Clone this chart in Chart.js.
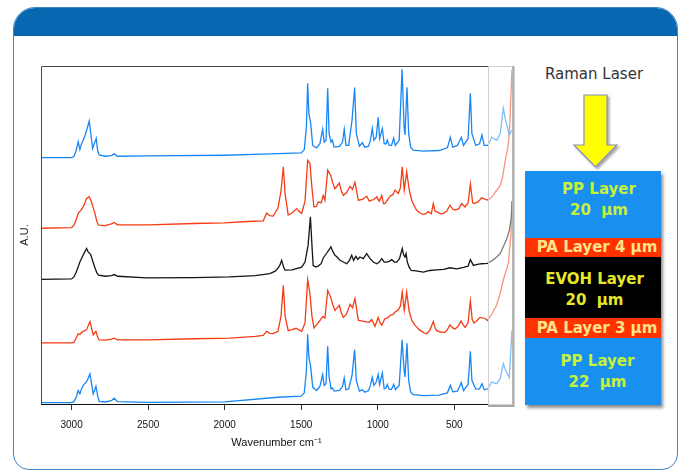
<!DOCTYPE html>
<html>
<head>
<meta charset="utf-8">
<title>Raman spectra of a multilayer film</title>
<script src="https://cdn.jsdelivr.net/npm/chart.js@4.4.0/dist/chart.umd.min.js"></script>
<style>
    html, body { margin: 0; padding: 0; background: #fff; }
    #page { position: relative; width: 686px; height: 471px; overflow: hidden; font-family: 'Liberation Sans', Arial, sans-serif; }
    .frame { position: absolute; left: 13px; top: 7px; width: 663px; height: 461px; border: 1px solid #3d85c8; border-radius: 22px 22px 16px 16px; overflow: hidden; }
    .frame .head { height: 28px; background: #0767b1; }
    #chartBox { position: absolute; left: 0; top: 0; width: 520px; height: 460px; }
    .laser { position: absolute; left: 529px; top: 65px; width: 130px; line-height: 18px; text-align: center; font-family: 'DejaVu Sans'; font-size: 15px; color: #333; }
    .arrow { position: absolute; left: 569px; top: 93px; }
    .stack { position: absolute; left: 525px; top: 171px; width: 136px; box-shadow: 2px 3px 3px rgba(0, 0, 0, .45); }
    .layer { display: flex; flex-direction: column; justify-content: center; align-items: center; text-align: center; box-sizing: border-box; font-family: 'DejaVu Sans'; font-weight: bold; font-size: 15px; line-height: 21px; white-space: pre; }
    .pp { background: #1990ef; color: #c6f23a; padding-left: 12px; }
    .pa { background: #ff3300; color: #ffe28a; padding-left: 8px; }
    .evoh { background: #000; color: #e5e82a; padding-left: 3px; }
</style>
</head>
<body>
<div id="page">
    <div class="frame"><div class="head"></div></div>

    <div id="chartBox"><canvas id="ramanChart"></canvas></div>

    <div class="laser">Raman Laser</div>
    <svg class="arrow" width="52" height="80">
        <defs>
            <filter id="arrowShadow" x="-20%" y="-20%" width="150%" height="150%">
                <feDropShadow dx="2" dy="2" stdDeviation="1.2" flood-color="#555" flood-opacity=".5"/>
            </filter>
        </defs>
        <polygon points="15,2 38,2 38,52 48,52 26.5,74 5,52 15,52" fill="#ffff00" stroke="#8a8ac0" stroke-width="1.2" filter="url(#arrowShadow)"/>
    </svg>

    <div class="stack">
        <div class="layer pp" style="height:67px;padding-bottom:9px">PP Layer<br>20  µm</div>
        <div class="layer pa" style="height:19px">PA Layer 4 µm</div>
        <div class="layer evoh" style="height:61px;padding-top:5px">EVOH Layer<br>20  µm</div>
        <div class="layer pa" style="height:20px">PA Layer 3 µm</div>
        <div class="layer pp" style="height:67px;padding-left:9px">PP Layer<br>22  µm</div>
    </div>
</div>

<script>
'use strict';

// wavenumber (cm-1), stacked intensity (A.U.), top to bottom
const ppTop = [[3200,72.9],[3000,72.9],[2985,73.2],[2970,75.0],[2957,77.6],[2946,75.3],[2935,77.0],[2924,78.1],[2912,79.5],[2902,81.0],[2885,83.7],[2876,80.5],[2863,75.6],[2852,77.0],[2839,78.6],[2830,75.0],[2820,73.7],[2780,73.3],[2740,73.5],[2722,74.0],[2700,73.3],[2500,73.4],[2000,73.6],[1700,74.0],[1500,74.3],[1480,75.2],[1466,82.0],[1458,94.9],[1450,86.0],[1438,83.0],[1425,76.5],[1400,75.8],[1378,77.0],[1360,81.3],[1350,77.5],[1338,78.0],[1327,93.4],[1318,80.0],[1305,77.5],[1297,78.1],[1285,76.0],[1250,76.2],[1230,77.5],[1219,81.3],[1208,76.5],[1190,76.5],[1168,84.0],[1151,93.6],[1140,80.0],[1120,76.3],[1101,77.3],[1085,76.0],[1060,76.3],[1048,78.0],[1036,81.5],[1025,78.0],[1010,79.0],[997,84.8],[988,78.5],[970,81.5],[958,77.0],[945,77.0],[938,78.1],[925,76.5],[910,76.5],[896,78.7],[885,76.5],[860,78.0],[841,99.0],[828,82.0],[822,79.6],[809,93.7],[798,80.0],[785,76.0],[768,75.1],[700,74.8],[600,75.0],[545,75.8],[526,78.9],[510,76.0],[480,76.5],[454,78.9],[440,76.5],[410,78.5],[395,91.9],[385,80.0],[360,76.5],[335,77.0],[319,79.6],[305,76.5],[280,76.5],[256,78.9],[223,78.0],[200,80.0],[180,87.5],[165,84.0],[141,79.6],[123,81.0]];

const paTop = [[3200,52.0],[3000,52.2],[2985,52.9],[2970,54.5],[2957,56.4],[2940,57.3],[2924,58.3],[2902,60.8],[2885,61.3],[2870,59.8],[2855,57.5],[2846,56.1],[2835,54.0],[2824,52.9],[2780,52.8],[2740,53.3],[2722,53.7],[2700,53.0],[2500,53.0],[2200,53.4],[2000,53.6],[1850,54.0],[1748,54.2],[1726,56.5],[1705,55.7],[1683,55.6],[1652,58.0],[1632,63.0],[1617,70.2],[1605,62.0],[1585,55.9],[1560,56.5],[1530,57.8],[1510,56.8],[1497,56.4],[1475,60.0],[1458,72.1],[1443,71.2],[1430,64.0],[1417,58.3],[1400,58.5],[1389,59.8],[1370,59.5],[1356,61.7],[1345,60.3],[1327,69.2],[1308,67.7],[1295,65.5],[1280,63.7],[1265,64.5],[1251,65.4],[1238,63.0],[1225,61.7],[1205,62.5],[1181,64.4],[1165,63.5],[1149,65.6],[1127,60.3],[1100,60.5],[1072,61.5],[1055,60.0],[1040,60.3],[1025,60.5],[1007,61.3],[990,60.0],[974,61.7],[963,59.3],[953,59.3],[935,60.5],[920,61.5],[900,62.0],[887,63.3],[866,62.3],[852,64.0],[840,70.2],[827,63.3],[811,68.7],[795,63.5],[778,60.3],[760,58.5],[746,57.3],[725,56.5],[702,56.1],[685,56.3],[670,56.9],[650,56.3],[637,59.3],[625,57.0],[615,56.9],[590,56.3],[572,56.4],[550,57.0],[528,58.8],[510,57.6],[495,57.4],[470,57.8],[452,59.3],[430,58.3],[410,59.5],[395,65.1],[380,59.5],[371,59.3],[345,59.8],[321,61.0],[300,60.6],[278,60.3],[250,61.5],[230,62.8],[201,64.5],[185,67.0],[169,71.5],[150,76.0],[140,80.0],[123,99.0]];

const evoh = [[3200,36.9],[3000,37.0],[2985,37.6],[2970,39.0],[2946,42.0],[2920,44.5],[2902,46.0],[2892,45.0],[2876,44.3],[2860,42.0],[2846,40.1],[2835,38.8],[2824,38.1],[2780,37.8],[2740,38.0],[2722,38.3],[2700,37.8],[2510,37.3],[2200,37.4],[1966,37.6],[1800,38.0],[1705,38.6],[1670,39.3],[1652,40.2],[1640,41.0],[1628,42.5],[1615,40.5],[1606,39.6],[1560,39.7],[1497,40.5],[1475,42.0],[1455,47.0],[1440,55.4],[1430,47.0],[1422,41.0],[1405,40.5],[1389,40.8],[1370,41.5],[1356,43.2],[1334,44.6],[1306,46.5],[1292,45.0],[1280,44.0],[1265,43.5],[1247,42.5],[1225,42.0],[1203,41.5],[1185,42.5],[1170,44.0],[1158,42.5],[1143,43.7],[1130,42.8],[1117,43.5],[1095,43.0],[1072,44.5],[1050,43.0],[1029,42.0],[1007,41.5],[990,42.0],[974,43.0],[958,42.0],[942,42.0],[925,42.2],[909,42.7],[890,42.0],[876,42.0],[858,43.0],[840,46.0],[830,44.0],[822,43.5],[815,44.5],[807,42.0],[795,40.5],[781,39.5],[750,39.4],[702,39.0],[660,39.5],[615,39.7],[570,39.8],[528,40.3],[484,40.0],[440,40.4],[410,40.8],[395,42.7],[375,41.0],[350,41.3],[321,41.5],[283,41.6],[250,42.5],[223,43.5],[200,44.5],[180,46.5],[160,48.5],[140,51.4],[128,55.0],[123,60.0]];

const paBottom = [[3200,18.1],[3000,18.1],[2985,18.2],[2970,19.5],[2957,20.8],[2946,20.5],[2935,21.2],[2924,21.5],[2902,22.0],[2880,24.4],[2870,22.5],[2859,20.5],[2850,21.0],[2841,21.5],[2830,19.8],[2820,19.0],[2780,18.9],[2740,19.2],[2722,19.5],[2700,19.0],[2500,19.0],[2200,19.3],[1966,19.5],[1800,20.0],[1748,20.3],[1726,21.5],[1705,20.9],[1683,20.8],[1652,21.5],[1632,26.0],[1617,35.1],[1605,26.0],[1585,21.7],[1560,22.0],[1534,22.4],[1510,21.8],[1497,21.5],[1475,24.0],[1458,36.8],[1443,32.7],[1430,26.0],[1417,22.5],[1400,23.5],[1382,24.4],[1360,25.9],[1345,25.4],[1327,33.6],[1308,31.7],[1295,29.5],[1280,27.7],[1265,28.5],[1251,29.2],[1238,27.0],[1225,25.6],[1205,26.5],[1181,29.5],[1165,28.5],[1149,31.2],[1127,24.8],[1100,24.5],[1072,24.3],[1055,24.2],[1040,25.0],[1018,23.0],[997,25.6],[985,24.0],[974,23.3],[953,25.3],[935,25.5],[920,26.2],[900,26.5],[887,27.2],[866,27.9],[852,29.0],[840,33.1],[827,27.7],[811,33.1],[795,27.5],[778,24.8],[760,23.5],[746,22.8],[730,22.0],[713,21.5],[695,21.0],[680,20.8],[660,21.8],[637,24.4],[625,22.5],[615,21.7],[590,21.3],[561,21.2],[545,22.0],[528,23.4],[510,22.5],[495,22.2],[475,23.0],[456,24.6],[443,23.5],[430,22.7],[410,24.0],[395,30.5],[383,25.0],[371,24.0],[350,24.8],[332,25.6],[300,25.3],[283,24.7],[250,27.0],[223,29.3],[201,32.7],[180,36.6],[147,41.6],[130,50.0],[123,60.0]];

const ppBottom = [[3200,0.4],[3000,0.4],[2985,0.7],[2970,2.0],[2957,4.0],[2946,3.0],[2935,4.5],[2924,5.5],[2910,6.2],[2898,7.0],[2880,8.9],[2870,6.0],[2859,3.0],[2850,4.0],[2841,5.2],[2830,2.5],[2820,0.8],[2780,0.6],[2740,1.0],[2722,1.7],[2700,0.7],[2500,0.5],[2000,0.6],[1652,2.0],[1500,2.3],[1480,3.3],[1466,10.0],[1458,20.6],[1450,14.0],[1438,10.9],[1425,5.0],[1400,4.0],[1378,5.2],[1360,8.7],[1350,5.5],[1338,6.0],[1327,17.1],[1318,8.0],[1305,4.5],[1297,4.8],[1285,3.8],[1250,4.0],[1230,5.2],[1219,7.7],[1208,4.2],[1190,4.5],[1168,8.5],[1151,16.1],[1140,7.0],[1120,3.8],[1101,4.2],[1085,3.5],[1060,4.0],[1048,5.5],[1036,7.9],[1025,5.5],[1010,6.5],[997,8.7],[988,5.8],[970,9.2],[958,4.5],[945,4.8],[938,5.8],[925,4.3],[910,4.3],[896,5.8],[885,4.3],[860,5.5],[841,19.0],[828,10.0],[822,8.0],[809,18.0],[798,7.0],[785,3.5],[768,2.8],[700,2.5],[600,2.6],[545,3.3],[526,5.5],[510,3.6],[480,3.8],[454,6.3],[440,4.0],[410,5.8],[395,15.6],[385,7.0],[360,4.4],[335,4.5],[319,6.0],[305,4.2],[280,4.5],[256,6.5],[223,6.0],[200,7.5],[180,11.9],[165,10.0],[141,7.9],[123,21.8]];

const seriesNames = ['PP', 'PA', 'EVOH', 'PA', 'PP'];
const tickLabels = [3000, 2500, 2000, 1500, 1000, 500];
const xRange = [123, 3200];

(function (window, document) {
    var colors = ['#1887f5', '#f53c14', '#151515', '#f53c14', '#1887f5'];
    var fadeFrom = 280;   // right strip of the original figure is a pasted, washed out image

    var toPoints = function (rows) {
        return rows.map(function (r) { return { x: r[0], y: r[1] }; });
    };

    var framePlugin = {
        id: 'frame',
        afterDatasetsDraw: function (chart) {
            var ctx = chart.ctx, a = chart.chartArea;
            var fx = Math.round(chart.scales.x.getPixelForValue(fadeFrom));
            ctx.save();
            ctx.fillStyle = 'rgba(255,255,255,0.45)';
            ctx.fillRect(fx, a.top - 2, a.right - fx + 3, a.bottom - a.top + 4);
            ctx.restore();
        },
        afterDraw: function (chart) {
            var ctx = chart.ctx, a = chart.chartArea;
            var fx = Math.round(chart.scales.x.getPixelForValue(fadeFrom));
            ctx.save();
            ctx.lineWidth = 1;
            // faded box + shadow
            ctx.strokeStyle = '#cfcfcf';
            ctx.strokeRect(fx + 0.5, a.top + 0.5, a.right - fx, a.bottom - a.top);
            ctx.strokeStyle = '#a9a9a9';
            ctx.lineWidth = 2;
            ctx.beginPath();
            ctx.moveTo(a.right + 1.5, a.top);
            ctx.lineTo(a.right + 1.5, a.bottom + 2);
            ctx.lineTo(fx, a.bottom + 2);
            ctx.stroke();
            // plot frame
            ctx.lineWidth = 1;
            ctx.strokeStyle = '#4a4a4a';
            ctx.beginPath();
            ctx.moveTo(fx, a.top + 0.5);
            ctx.lineTo(a.left + 0.5, a.top + 0.5);
            ctx.lineTo(a.left + 0.5, a.bottom + 0.5);
            ctx.stroke();
            ctx.strokeStyle = '#111';
            ctx.beginPath();
            ctx.moveTo(a.left, a.bottom + 0.5);
            ctx.lineTo(fx, a.bottom + 0.5);
            ctx.stroke();
            ctx.restore();
        }
    };

    var spectra = [ppTop, paTop, evoh, paBottom, ppBottom];
    var datasets = spectra.map(function (rows, i) {
        return {
            label: seriesNames[i],
            data: toPoints(rows),
            borderColor: colors[i],
            borderWidth: 1.3,
            pointRadius: 0,
            tension: 0,
            fill: false
        };
    });

    var ctx = document.getElementById('ramanChart').getContext('2d');
    new Chart(ctx, {
        type: 'line',
        data: { datasets: datasets },
        options: {
            responsive: true,
            maintainAspectRatio: false,
            animation: false,
            layout: { padding: { left: 12, top: 66, right: 8, bottom: 10 } },
            plugins: {
                legend: { display: false },
                tooltip: { enabled: false }
            },
            scales: {
                x: {
                    type: 'linear',
                    reverse: true,
                    min: xRange[0],
                    max: xRange[1],
                    afterBuildTicks: function (scale) {
                        scale.ticks = tickLabels.map(function (v) { return { value: v }; });
                    },
                    afterFit: function (scale) { scale.height = 46; },
                    grid: { drawOnChartArea: false, tickLength: 6, color: '#333' },
                    border: { display: false },
                    ticks: {
                        padding: 9,
                        color: '#111',
                        maxRotation: 0,
                        font: { family: "'Liberation Sans', Arial, sans-serif", size: 10 },
                        callback: function (v) { return String(v); }
                    },
                    title: {
                        display: true,
                        text: 'Wavenumber cm⁻¹',
                        color: '#111',
                        font: { family: "'Liberation Sans', Arial, sans-serif", size: 11 },
                        padding: { top: 0, bottom: 0 }
                    }
                },
                y: {
                    min: 0,
                    max: 100,
                    afterFit: function (scale) { scale.width = 29; },
                    ticks: { display: false },
                    grid: { display: false },
                    border: { display: false },
                    title: {
                        display: true,
                        text: 'A.U.',
                        color: '#222',
                        font: { family: "'Liberation Sans', Arial, sans-serif", size: 11 },
                        padding: { top: 6, bottom: 0 }
                    }
                }
            }
        },
        plugins: [framePlugin]
    });
})(window, document);
</script>
</body>
</html>
